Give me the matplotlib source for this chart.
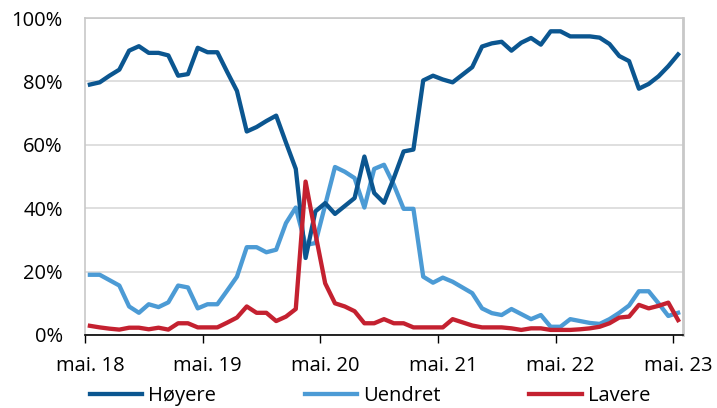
import numpy as np
import matplotlib
matplotlib.use("Agg")
import matplotlib.pyplot as plt

plt.rcParams['font.family'] = ['Open Sans', 'DejaVu Sans']

tick_labels = ["mai. 18", "mai. 19", "mai. 20", "mai. 21", "mai. 22", "mai. 23"]

hoyere = [79, 79.7, 81.8, 83.7, 89.7, 91.1, 89, 89, 88.2, 81.8, 82.3, 90.6, 89.2, 89.2,
          83, 77, 64.2, 65.6, 67.5, 69.2, 60.7, 52.4, 24.3, 39, 41.6, 38.2, 40.7, 43.2,
          56.3, 44.8, 41.7, 49.5, 57.9, 58.5, 80.3, 81.8, 80.6, 79.7, 82.1, 84.5,
          91, 92, 92.5, 89.7, 92.2, 93.7, 91.6, 95.8, 95.8, 94.2, 94.2, 94.2, 93.8, 91.8,
          88, 86.4, 77.7, 79.2, 81.6, 84.8, 88.5]

uendret = [19, 19, 17.3, 15.6, 9, 7, 9.7, 8.8, 10.3, 15.6, 15, 8.4, 9.7, 9.7,
           14, 18.4, 27.7, 27.7, 26.1, 26.9, 35.3, 40.2, 28.4, 29, 41, 53, 51.5, 49.5,
           40.2, 52.4, 53.7, 47.4, 39.8, 39.8, 18.4, 16.5, 18.1, 16.8, 15, 13.2,
           8.4, 6.9, 6.3, 8.2, 6.6, 5, 6.3, 2.6, 2.6, 5, 4.4, 3.8, 3.5, 5,
           7, 9.3, 13.8, 13.8, 10, 6, 7]

lavere = [2.9, 2.4, 2, 1.7, 2.3, 2.3, 1.8, 2.3, 1.7, 3.7, 3.7, 2.4, 2.4, 2.4,
          3.9, 5.5, 9, 7, 7, 4.4, 5.8, 8.2, 48.4, 32, 16.3, 10, 9, 7.5,
          3.7, 3.7, 5, 3.7, 3.7, 2.4, 2.4, 2.4, 2.4, 5, 4, 3,
          2.4, 2.4, 2.4, 2.1, 1.6, 2.1, 2.1, 1.6, 1.6, 1.6, 1.8, 2.1, 2.6, 3.7,
          5.5, 5.8, 9.5, 8.4, 9.2, 10.2, 4.7]

c_hoy = "#0B5690"
c_uen = "#4C9BD5"
c_lav = "#C42130"

fs = 14.5

fig = plt.figure(figsize=(7.17, 4.08), dpi=100)
ax = fig.add_axes([85/717, 1-335/408, (683-85)/717, (335-18)/408])

x = np.arange(len(hoyere))
ax.plot(x, hoyere, color=c_hoy, lw=3.1, label="Høyere", solid_joinstyle="round", zorder=3)
ax.plot(x, uendret, color=c_uen, lw=3.1, label="Uendret", solid_joinstyle="round", zorder=2)
ax.plot(x, lavere, color=c_lav, lw=3.1, label="Lavere", solid_joinstyle="round", zorder=4)

ax.set_xlim(-0.5, len(hoyere) - 0.5)
ax.set_ylim(0, 100)

ax.set_yticks(np.arange(0, 101, 20))
ax.set_yticklabels([f"{v}%" for v in range(0, 101, 20)])
ax.tick_params(axis="y", length=0, pad=16, labelsize=fs, colors="#000000")
ax.grid(axis="y", color="#D9D9D9", lw=1.2, zorder=0)
ax.set_axisbelow(True)

ax.set_xticks(np.arange(-0.5, len(hoyere), 12))
ax.set_xticklabels([])
ax.set_xticks(np.arange(0, len(hoyere), 12), minor=True)
ax.set_xticklabels(tick_labels, minor=True)
ax.tick_params(axis="x", which="major", length=6, width=1, color="#000000", direction="out")
ax.tick_params(axis="x", which="minor", length=0, pad=15, labelsize=fs)

for s in ["left", "top", "right"]:
    ax.spines[s].set_color("#C8C8C8")
    ax.spines[s].set_linewidth(1.2)
ax.spines["right"].set_linewidth(2)
ax.spines["bottom"].set_color("#000000")
ax.spines["bottom"].set_linewidth(1.2)

fig.legend(loc="center", bbox_to_anchor=(370/717, 1-396/408), ncol=3, frameon=False,
           fontsize=fs, handlelength=2.6, handletextpad=0.3, columnspacing=4.4,
           borderaxespad=0)

fig.savefig("out.png", dpi=100)
